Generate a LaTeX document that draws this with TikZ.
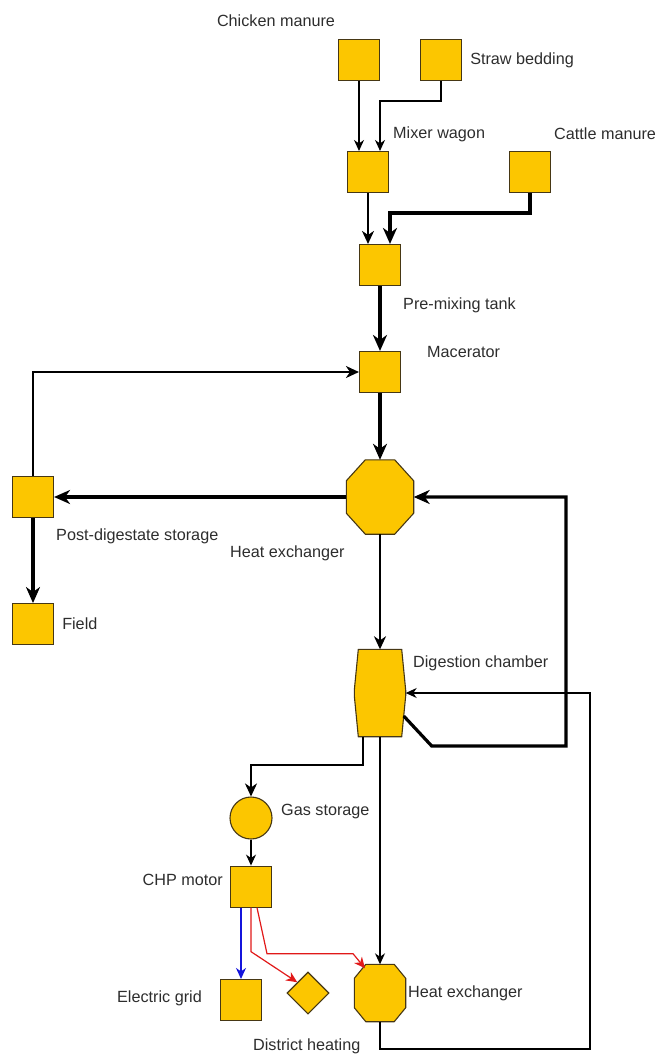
\documentclass[tikz,border=0pt]{standalone}
\usepackage{fontspec}
\setmainfont{Liberation Sans}
\usetikzlibrary{arrows.meta,positioning,shapes.geometric,calc}
\definecolor{fGold}{RGB}{252,198,0}
\definecolor{dGold}{RGB}{70,55,20}
\definecolor{tGray}{RGB}{45,45,45}
\definecolor{hBlue}{RGB}{20,20,220}
\definecolor{hRed}{RGB}{225,25,25}
% chamfered outline round a named node: node, x cut, y cut
\newcommand{\chamf}[3]{\draw[shp] ($(#1.north west)+(#2,0)$) -- ($(#1.north east)+(-#2,0)$)
  -- ($(#1.north east)+(0,#3)$) -- ($(#1.south east)+(0,-#3)$) -- ($(#1.south east)+(-#2,0)$)
  -- ($(#1.south west)+(#2,0)$) -- ($(#1.south west)+(0,-#3)$) -- ($(#1.north west)+(0,#3)$) -- cycle;}

\begin{document}
\begin{tikzpicture}[x=1pt,y=-1pt,
  shp/.style={draw=dGold,fill=fGold,line width=1.1pt},
  bx/.style={shp,inner sep=0pt,minimum size=41pt},
  hold/.style={inner sep=0pt},
  rnd/.style={shp,inner sep=0pt,circle,minimum size=42pt},
  dia/.style={shp,inner sep=0pt,diamond,minimum width=42pt,minimum height=42pt},
  lb/.style={font=\fontsize{16.2}{19}\selectfont,text=tGray,inner sep=0pt},
  ar1/.style={-{Stealth[length=11pt,width=10pt,inset=3.5pt]},line width=1.2pt},
  ar2/.style={-{Stealth[length=13pt,width=12pt,inset=4pt]},line width=2pt},
  ar3/.style={-{Stealth[length=16pt,width=14pt,inset=5pt]},line width=3.2pt}]
\useasboundingbox (0,0) rectangle (656,1055);
% feed
\node[bx] (chk) at (359,60) {};
\node[bx] (str) at (441,60) {};
\node[bx] (mix) at (368,172) {};
\node[bx] (cat) at (530,172) {};
\node[bx] (pre) at (380,265) {};
\node[bx] (mac) at (380,372) {};
\node[lb] (lchk) at (276,21) {Chicken manure};
\node[lb,right=8pt of str] (lstr) {Straw bedding};
\node[lb,anchor=west] (lmix) at (393,134) {Mixer wagon};
\node[lb,anchor=west] (lcat) at (554,134) {Cattle manure};
\node[lb,anchor=west] (lpre) at (403,305) {Pre-mixing tank};
\node[lb,anchor=west] (lmac) at (427,352) {Macerator};
% digestion
\node[hold,minimum width=67pt,minimum height=74pt] (hx1) at (380,497) {};
\chamf{hx1}{19}{21}
\node[bx] (post) at (33,497) {};
\node[bx,below=85pt of post] (fld) {};
\node[hold,minimum width=51pt,minimum height=87pt] (dc) at (380,693) {};
\chamf{dc}{4}{41}
\node[lb,anchor=west] (lpost) at (56,536) {Post-digestate storage};
\node[lb,anchor=west] (lhx1) at (230,553) {Heat exchanger};
\node[lb,right=8pt of fld] (lfld) {Field};
\node[lb,anchor=west] (ldc) at (413,663) {Digestion chamber};
% gas and heat
\node[rnd] (gas) at (251,818) {};
\node[bx,below=26pt of gas] (chp) {};
\node[bx] (grid) at (241,1000) {};
\node[dia] (dh) at (308,993) {};
\node[hold,minimum width=51pt,minimum height=57pt] (hx2) at (380,993) {};
\chamf{hx2}{11.5}{14}
\node[lb,anchor=west] (lgas) at (281,812) {Gas storage};
\node[lb,anchor=east] (lchp) at (223,880) {CHP motor};
\node[lb,anchor=east] (lgrid) at (202,998) {Electric grid};
\node[lb,anchor=west] (ldh) at (253,1046) {District heating};
\node[lb,anchor=west] (lhx2) at (408,993) {Heat exchanger};
\coordinate (rt1) at (566,746);
\coordinate (rt2) at (590,1049);

\draw[ar1] (chk.south) -- (chk.south |- mix.north);
\draw[ar1] (str.south) -- ++(0,20) -| ($(mix.north)+(12,0)$);
\draw[ar2] (mix.south) -- (mix.south |- pre.north);
\draw[ar3] (cat.south) -- ++(0,20) -| ($(pre.north)+(10,0)$);
\draw[ar3] (pre) -- (mac);
\draw[ar2] (post.north) |- (mac.west);
\draw[ar3] (mac) -- (hx1);
\draw[ar3] (hx1.west) -- (post.east);
\draw[ar3] (post) -- (fld);
\draw[ar2] (hx1.south) -- (dc.north);
\draw[ar3] ($(dc.east)+(-2,23)$) -- ++(28,30) -- (rt1) |- (hx1.east);
\draw[ar1] (hx2.south) |- (rt2) |- (dc.east);
\draw[ar2] ($(dc.south)+(-17,0)$) -- ++(0,28) -| (gas.north);
\draw[ar1] (dc.south) -- (hx2.north);
\draw[ar1] (gas) -- (chp);
\draw[ar1,hBlue] (grid.north |- chp.south) -- (grid.north);
\draw[ar1,hRed] (chp.south) -- ++(0,44) -- (dh.north west);
\draw[ar1,hRed] ($(chp.south)+(6,0)$) -- ++(10,46) -- ++(86,0) -- ($(hx2.north)+(-15,4)$);
\end{tikzpicture}
\end{document}
